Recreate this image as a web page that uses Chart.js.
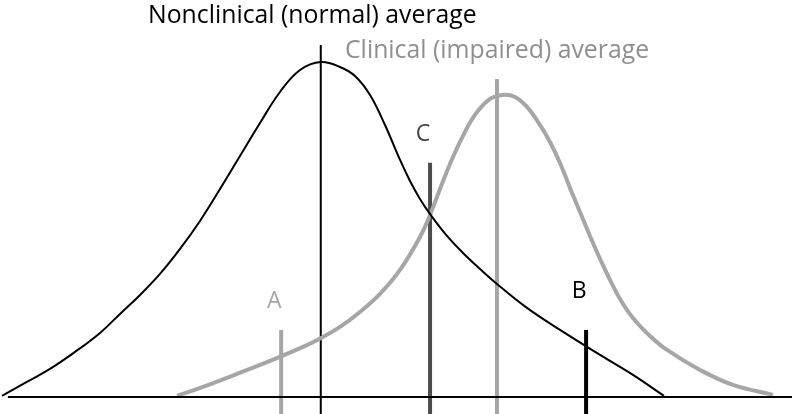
<!DOCTYPE html>
<html>
<head>
<meta charset="utf-8">
<script src="https://cdn.jsdelivr.net/npm/chart.js@4.4.0/dist/chart.umd.min.js"></script>
<style>
  html, body { margin: 0; padding: 0; background: #fff; }
  canvas { display: block; }
</style>
</head>
<body>
<canvas id="chart" width="792" height="414"></canvas>
<script>
// score (0-100) vs relative frequency (peak of nonclinical = 100)
const nonclinicalScore = [0.25, 3.16, 6.31, 9.47, 12.63, 15.15, 17.68, 20.20, 22.73, 25.25, 27.78, 30.30, 32.83, 35.35, 37.88, 40.53, 42.93, 44.82, 46.72, 48.61, 50.51, 51.77, 53.03, 54.29, 56.44, 58.46, 60.61, 62.75, 66.54, 70.71, 75.76, 79.92, 83.84];
const nonclinicalFreq = [0.3, 4.18, 8.36, 13.43, 19.10, 24.78, 30.45, 36.72, 44.18, 52.54, 62.09, 71.94, 81.79, 91.04, 97.61, 100, 98.51, 95.82, 90.15, 81.19, 70.75, 64.48, 59.10, 54.63, 48.06, 42.99, 38.21, 33.73, 26.57, 20.00, 12.54, 6.57, 0.3];

const clinicalScore = [22.35, 25.63, 29.92, 34.09, 38.26, 40.66, 42.93, 45.45, 47.98, 50.51, 53.03, 54.29, 55.56, 56.82, 58.33, 59.97, 61.87, 63.51, 65.03, 66.54, 68.18, 69.44, 70.71, 71.97, 73.23, 74.49, 75.76, 77.02, 78.28, 79.92, 82.07, 84.22, 88.38, 92.55, 97.60];
const clinicalFreq = [0.3, 2.99, 6.87, 10.75, 14.93, 17.76, 20.90, 25.37, 30.75, 37.91, 47.76, 54.33, 62.09, 69.55, 77.31, 84.18, 88.96, 90.15, 89.55, 86.57, 81.19, 76.12, 69.85, 62.39, 55.22, 48.06, 41.19, 34.93, 29.25, 23.58, 18.21, 14.03, 8.06, 3.58, 0.6];

const averageNames = ["Nonclinical (normal) average", "Clinical (impaired) average"];
const averageScores = [40.5, 62.75];
const averageHeights = [105.1, 94.9];

const cutoffNames = ["A", "B", "C"];
const cutoffScores = [35.5, 74.0, 54.3];
const cutoffHeights = [20.0, 20.0, 69.9];

const axisRange = [1.0, 100];
const yBottom = -5.1;

function toPoints(xs, ys) {
  return xs.map((x, i) => ({ x: x, y: ys[i] }));
}
function vline(x, top) {
  return [{ x: x, y: yBottom }, { x: x, y: top }];
}

const cutoffColors = ["#a6a6a6", "#000000", "#4d4d4d"];
const averageColors = ["#000000", "#a6a6a6"];
const averageWidths = [2, 4];

const datasets = [
  {
    label: "Baseline",
    data: [{ x: axisRange[0], y: 0 }, { x: axisRange[1], y: 0 }],
    borderColor: "#000", borderWidth: 2, tension: 0
  },
  {
    label: "Nonclinical",
    data: toPoints(nonclinicalScore, nonclinicalFreq),
    borderColor: "#000", borderWidth: 2,
    tension: 0.4
  },
  {
    label: "Clinical",
    data: toPoints(clinicalScore, clinicalFreq),
    borderColor: "#a6a6a6", borderWidth: 4,
    tension: 0.4
  }
];
averageScores.forEach((s, i) => {
  datasets.push({
    label: averageNames[i],
    data: vline(s, averageHeights[i]),
    borderColor: averageColors[i], borderWidth: averageWidths[i], tension: 0
  });
});
cutoffScores.forEach((s, i) => {
  datasets.push({
    label: cutoffNames[i],
    data: vline(s, cutoffHeights[i]),
    borderColor: cutoffColors[i], borderWidth: 4, tension: 0
  });
});

// text labels drawn on top, placed relative to the data scales
const textLabels = {
  id: "textLabels",
  afterDraw(chart) {
    const ctx = chart.ctx;
    const xs = chart.scales.x, ys = chart.scales.y;
    ctx.save();
    ctx.textBaseline = "middle";
    ctx.textAlign = "left";
    ctx.font = "24.8px 'Open Sans'";
    ctx.fillStyle = "#000";
    ctx.fillText(averageNames[0], 148, 16);
    ctx.fillStyle = "#8f8f8f";
    ctx.fillText(averageNames[1], 345, 51);

    ctx.textAlign = "center";
    ctx.font = "23px 'Open Sans'";
    const lift = [28, 38, 28];
    const letterColors = ["#a6a6a6", "#000", "#444"];
    cutoffNames.forEach((n, i) => {
      ctx.fillStyle = letterColors[i];
      ctx.fillText(n, xs.getPixelForValue(cutoffScores[i]) - 7, ys.getPixelForValue(cutoffHeights[i]) - lift[i]);
    });
    ctx.restore();
  }
};

new Chart(document.getElementById("chart"), {
  type: "scatter",
  data: { datasets: datasets },
  options: {
    responsive: false,
    animation: false,
    layout: { padding: 0 },
    elements: { point: { radius: 0 } },
    datasets: { scatter: { showLine: true, pointRadius: 0 } },
    plugins: { legend: { display: false }, tooltip: { enabled: false } },
    scales: {
      x: { type: "linear", min: 0, max: 100, display: false },
      y: { type: "linear", min: yBottom, max: 118.5, display: false }
    }
  },
  plugins: [textLabels]
});
</script>
</body>
</html>
